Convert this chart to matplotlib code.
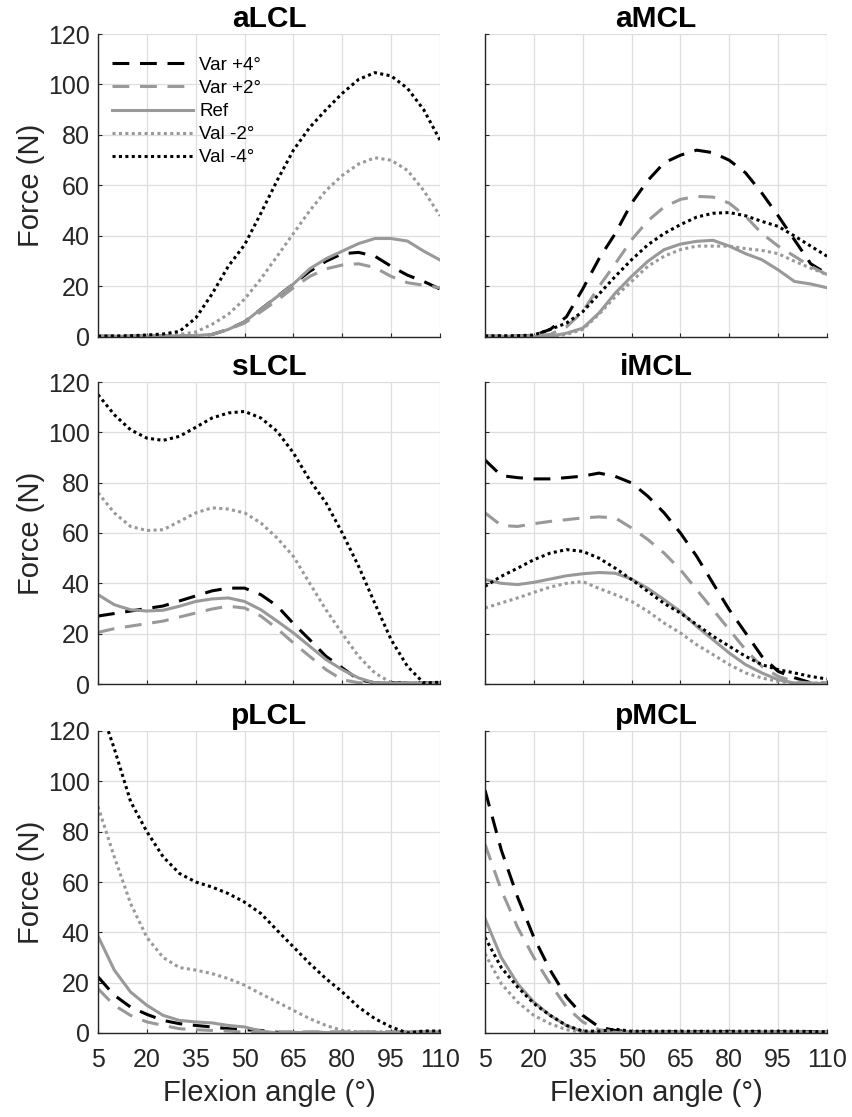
# Fuerzas en ligamentos colaterales segun angulo de flexion
# (varo/valgo vs referencia)

import numpy as np
import matplotlib.pyplot as plt

plt.rcParams['font.family'] = ['Liberation Sans', 'DejaVu Sans']

# Datos

angulo = [5, 10, 15, 20, 25, 30, 35, 40, 45, 50, 55, 60, 65, 70, 75,
          80, 85, 90, 95, 100, 105, 110]

series = ['Var +4°', 'Var +2°', 'Ref', 'Val -2°', 'Val -4°']

aLCL = {
    'Var +4°': [0.3, 0.3, 0.3, 0.4, 0.4, 0.5, 0.6, 1.0, 3.0, 6.0, 11, 16, 21, 26, 30, 33, 33.5, 32, 28, 24.5, 22, 19],
    'Var +2°': [0.3, 0.3, 0.3, 0.4, 0.4, 0.5, 0.6, 1.0, 3.0, 5.5, 10, 14.5, 19.5, 24, 27, 28.5, 29, 27.5, 24, 21.5, 20.5, 19.5],
    'Ref':     [0.3, 0.3, 0.3, 0.4, 0.4, 0.5, 0.6, 1.0, 3.0, 6.0, 11, 16, 21, 27, 31, 34, 37, 39, 39, 38, 34, 30.5],
    'Val -2°': [0.3, 0.3, 0.3, 0.4, 0.6, 1.0, 2.0, 5.0, 9.0, 15, 23, 32, 41, 50, 58, 64, 68.5, 71, 70, 66, 58, 48],
    'Val -4°': [0.3, 0.4, 0.5, 0.8, 1.2, 2.2, 7.5, 17, 28, 36.5, 49, 62, 74, 83, 90, 96.5, 102, 104.7, 103.4, 98.5, 90, 78],
}

aMCL = {
    'Var +4°': [0.3, 0.3, 0.4, 0.6, 3.0, 8.0, 19, 31, 41, 53, 62, 69, 72, 74, 73, 70, 65, 57, 48, 38.5, 29, 25],
    'Var +2°': [0.3, 0.3, 0.4, 0.5, 1.0, 4.0, 10, 20, 29, 38.5, 46, 51.5, 54.5, 55.7, 55.4, 53, 47.8, 41, 36, 32, 28, 24.7],
    'Ref':     [0.3, 0.3, 0.3, 0.3, 0.3, 1.5, 3.5, 9.5, 17.4, 24, 30, 34.6, 36.8, 37.9, 38.3, 36, 33, 30.6, 26.6, 22, 21, 19.5],
    'Val -2°': [0.3, 0.3, 0.3, 0.3, 0.3, 1.0, 3.0, 9.0, 16, 22, 28, 32, 34.6, 36, 36, 36, 35, 34.3, 33, 30, 27.3, 24.7],
    'Val -4°': [0.4, 0.5, 0.5, 0.8, 3.0, 5.5, 10, 17, 24, 30.6, 36.5, 41, 44.5, 47.5, 49, 49.3, 48, 45.8, 43.8, 40, 36, 32],
}

sLCL = {
    'Var +4°': [27, 28, 29, 30, 31, 33, 35, 37, 38.1, 38.1, 35.5, 31, 24, 17.6, 11, 6.4, 1.7, 0.5, 0.5, 0.5, 0.5, 0.5],
    'Var +2°': [20.5, 22, 23, 24, 25, 26.6, 28.2, 29.8, 30.9, 30.2, 27, 22, 16.3, 11, 5.7, 1.7, 0.5, 0.5, 0.5, 0.5, 0.5, 0.5],
    'Ref':     [35.5, 31.5, 29.5, 29, 29.3, 30.9, 32.8, 33.8, 34.2, 32.8, 29.5, 25, 20.3, 15, 9.7, 5.7, 2.4, 0.4, 0.3, 0.3, 0.3, 0.3],
    'Val -2°': [76, 68, 62.6, 61, 61.3, 64.6, 68, 70, 69.5, 68, 64, 58, 50.7, 40, 29.5, 20, 11, 4.4, 0.5, 0.5, 0.5, 0.5],
    'Val -4°': [115, 107, 101, 97.7, 96.8, 98.4, 102, 105.7, 107.7, 108.3, 105.7, 100.4, 91.8, 81, 72, 60, 46.8, 32, 17.6, 7, 0.4, 0.7],
}

iMCL = {
    'Var +4°': [89, 82.8, 82, 81.5, 81.5, 82, 82.6, 83.8, 82.5, 79.9, 74.6, 68, 60, 50.7, 40, 29.5, 20.3, 11, 5, 2.5, 0.5, 0.3],
    'Var +2°': [68, 63, 62.6, 63.7, 64.6, 65.3, 66, 66.4, 66, 62, 57.4, 52, 45.4, 37.5, 29.5, 21.6, 13.6, 7, 3, 1, 0.3, 0.3],
    'Ref':     [41.5, 40, 39.5, 40.4, 41.7, 43, 43.8, 44.3, 44, 41.7, 38, 33.5, 28.8, 22.9, 17.6, 12.3, 7.7, 4.4, 1.7, 0.4, 0.3, 0.2],
    'Val -2°': [30.2, 32.2, 34.2, 36.4, 38.5, 40, 40.7, 38, 35.5, 32.8, 28.9, 24.2, 20.3, 15.6, 11.7, 7.7, 4.4, 2.4, 1, 0.4, 0.4, 0.4],
    'Val -4°': [38.8, 42.8, 46, 49.4, 52, 53.4, 52.7, 50, 46, 41.5, 36.8, 32, 28.2, 23.6, 19, 15, 11, 7.7, 5.7, 4.4, 3, 2],
}

pLCL = {
    'Var +4°': [22.3, 15, 10.3, 7.4, 5, 3.7, 3, 2.4, 1.7, 1.3, 1, 0.3, 0.3, 0.3, 0.3, 0.3, 0.3, 0.3, 0.3, 0.3, 0.3, 0.3],
    'Var +2°': [17.6, 11, 7, 4.4, 3, 1.7, 1.3, 1, 0.8, 0.3, 0.3, 0.3, 0.3, 0.3, 0.3, 0.3, 0.3, 0.3, 0.3, 0.3, 0.3, 0.3],
    'Ref':     [38.5, 25, 16.3, 11, 7, 5, 4.4, 4, 3, 2.4, 0.8, 0, 0.2, 0.2, 0.2, 0.2, 0.2, 0.2, 0.2, 0.5, 0.5, 0.5],
    'Val -2°': [90, 70, 51.5, 38, 30, 26, 25, 23.6, 21.6, 19, 15.6, 12.3, 9, 5.7, 3, 1, 0.5, 0.5, 0.5, 0.5, 0.5, 0.5],
    'Val -4°': [132, 113, 92, 80, 70, 63.4, 60, 58, 55.4, 52, 47.5, 40.8, 34.2, 27.6, 21.6, 16.3, 10.3, 5.7, 2.4, 0, 0.8, 0.8],
}

pMCL = {
    'Var +4°': [96.5, 72.7, 54, 38, 25, 14.3, 7, 2.4, 1, 0.5, 0.5, 0.5, 0.5, 0.5, 0.5, 0.5, 0.5, 0.5, 0.5, 0.5, 0.5, 0.5],
    'Var +2°': [75, 56.8, 42, 30, 19.6, 10.3, 4.4, 1.3, 0.5, 0.5, 0.5, 0.5, 0.5, 0.5, 0.5, 0.5, 0.5, 0.5, 0.5, 0.5, 0.5, 0.5],
    'Ref':     [45.5, 30, 19.6, 12.3, 7, 3, 0.4, 0.3, 0.3, 0.3, 0.3, 0.3, 0.3, 0.3, 0.3, 0.3, 0.3, 0.3, 0.3, 0.3, 0.3, 0.3],
    'Val -2°': [31.5, 19.6, 12.3, 7, 3.7, 1.3, 0.3, 0.3, 0.3, 0.3, 0.3, 0.3, 0.3, 0.3, 0.3, 0.3, 0.3, 0.3, 0.3, 0.3, 0.3, 0.3],
    'Val -4°': [38, 26, 18.3, 11.7, 7, 3, 0.8, 0.7, 1.5, 0.7, 0.7, 0.7, 0.7, 0.7, 0.7, 0.7, 0.7, 0.7, 0.7, 0.7, 0.6, 0.5],
}

paneles = [('aLCL', aLCL), ('aMCL', aMCL),
           ('sLCL', sLCL), ('iMCL', iMCL),
           ('pLCL', pLCL), ('pMCL', pMCL)]

# Estilos

gris = '#999999'
estilos = {
    'Var +4°': dict(color='black', dashes=(5.5, 3.5)),
    'Var +2°': dict(color=gris, dashes=(5.5, 3.5)),
    'Ref':     dict(color=gris, linestyle='-'),
    'Val -2°': dict(color=gris, dashes=(1, 1.1)),
    'Val -4°': dict(color='black', dashes=(1, 1.1)),
}

# Grafica

fig = plt.figure(figsize=(8.52, 11.17), dpi=100)
W, H = 852, 1117
cols = [(98, 440), (485, 827)]
rows = [(34, 337), (382, 684), (731, 1033)]

texto = '#262626'
for i, (nombre, datos) in enumerate(paneles):
    r, c = divmod(i, 2)
    x0, x1 = cols[c]
    y0, y1 = rows[r]
    ax = fig.add_axes([x0 / W, 1 - y1 / H, (x1 - x0) / W, (y1 - y0) / H])

    for s in series:
        ax.plot(angulo, datos[s], lw=2.2, label=s, dash_capstyle='butt',
                **estilos[s])

    ax.set_xlim(5, 110)
    ax.set_ylim(0, 120)
    ax.set_xticks(np.arange(5, 111, 15))
    ax.set_yticks(np.arange(0, 121, 20))
    ax.grid(True, color='#dedede', lw=0.9)
    ax.set_axisbelow(True)
    for lado in ['top', 'right']:
        ax.spines[lado].set_visible(False)
    for lado in ['left', 'bottom']:
        ax.spines[lado].set_color(texto)
        ax.spines[lado].set_linewidth(1.0)
    ax.tick_params(direction='in', length=3, width=0.8, color=texto,
                   labelsize=18, labelcolor=texto)
    ax.tick_params(axis='x', pad=11)
    ax.tick_params(axis='y', pad=6)
    ax.set_title(nombre, fontsize=21.5, fontweight='bold', pad=5)

    if c == 0:
        ax.set_ylabel('Force (N)', fontsize=21, color=texto, labelpad=2)
    else:
        ax.set_yticklabels([])
    if r == 2:
        ax.set_xlabel('Flexion angle (°)', fontsize=21, color=texto, labelpad=5)
    else:
        ax.set_xticklabels([])

    if i == 0:
        ax.legend(loc='upper left', bbox_to_anchor=(0.041, 0.925), frameon=False,
                  fontsize=13.5, handlelength=4.3, handletextpad=0.35,
                  labelspacing=0.32, borderaxespad=0, borderpad=0)

fig.savefig('out.png', dpi=100)
